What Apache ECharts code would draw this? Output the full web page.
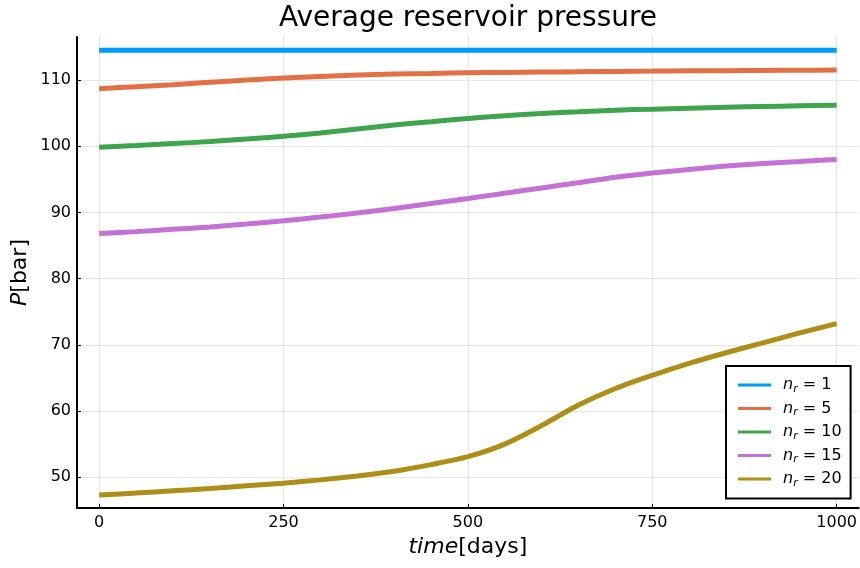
<!DOCTYPE html>
<html>
<head>
<meta charset="utf-8">
<script src="https://cdn.jsdelivr.net/npm/echarts@6/dist/echarts.min.js"></script>
<style>html,body{margin:0;padding:0;background:#fff;}#chart{width:860px;height:568px;}</style>
</head>
<body>
<div id="chart"></div>
<script>
const times = [0,50,100,150,200,250,300,350,400,450,500,550,600,650,700,750,800,850,900,950,1000];
const nr1  = [114.5,114.5,114.5,114.5,114.5,114.5,114.5,114.5,114.5,114.5,114.5,114.5,114.5,114.5,114.5,114.5,114.5,114.5,114.5,114.5,114.5];
const nr5  = [108.7,109.0,109.3,109.65,110.0,110.3,110.55,110.75,110.9,111.0,111.1,111.15,111.2,111.25,111.3,111.35,111.4,111.42,111.45,111.47,111.5];
const nr10 = [99.85,100.1,100.4,100.7,101.1,101.5,102.0,102.6,103.2,103.7,104.2,104.6,104.95,105.2,105.45,105.6,105.75,105.9,106.0,106.1,106.2];
const nr15 = [86.8,87.1,87.45,87.8,88.25,88.75,89.3,89.9,90.6,91.35,92.1,92.9,93.7,94.5,95.3,95.95,96.5,97.0,97.4,97.7,98.0];
const nr20 = [47.3,47.6,47.95,48.3,48.7,49.1,49.6,50.2,50.9,51.9,53.1,55.0,57.8,60.9,63.4,65.4,67.2,68.8,70.3,71.8,73.2];
const seriesNames = ['1','5','10','15','20'];
const seriesData = [nr1,nr5,nr10,nr15,nr20];
const colors = ['#009AFA','#E36F47','#3EA44E','#C371D2','#AC8E18'];
const xTicks = [0,250,500,750,1000];
const yTicks = [50,60,70,80,90,100,110];

const FONT = 'DejaVu Sans';
const chart = echarts.init(document.getElementById('chart'), null, {renderer:'canvas'});
const series = seriesNames.map((n,i)=>({
  name: n,
  type: 'line',
  data: times.map((t,j)=>[t, seriesData[i][j]]),
  showSymbol: false,
  smooth: 0.3,
  lineStyle: {width: 5, color: colors[i]},
  itemStyle: {color: colors[i]},
  emphasis: {disabled: true},
  z: 2 + i
}));
chart.setOption({
  animation: false,
  color: colors,
  title: {
    text: 'Average reservoir pressure',
    left: 468, top: 5, padding: 0, textAlign: 'center',
    textStyle: {fontFamily: FONT, fontSize: 28, fontWeight: 'normal', color: '#000'}
  },
  grid: {left: 77, right: 1, top: 37, bottom: 60, containLabel: false},
  legend: {
    orient: 'vertical', left: 726, top: 366,
    padding: [11, 9, 10, 12],
    itemGap: 6,
    itemWidth: 33, itemHeight: 3,
    icon: 'rect',
    borderColor: '#000', borderWidth: 2, backgroundColor: '#fff',
    formatter: n => '{i|n}{s|r}{t| = ' + n + '}',
    textStyle: {
      fontFamily: FONT, fontSize: 16, color: '#000', padding: [0,0,0,7],
      rich: {
        i: {fontFamily: FONT, fontSize: 16, fontStyle: 'italic', color: '#000'},
        s: {fontFamily: FONT, fontSize: 11, fontStyle: 'italic', color: '#000', padding: [8,0,0,0]},
        t: {fontFamily: FONT, fontSize: 16, color: '#000'}
      }
    },
    data: seriesNames
  },
  xAxis: {
    type: 'value', min: -30, max: 1030,
    name: '{i|time}{n|[days]}', nameLocation: 'middle', nameGap: 26,
    nameTextStyle: {rich: {
      i: {fontFamily: FONT, fontSize: 22, fontStyle: 'italic', color: '#000'},
      n: {fontFamily: FONT, fontSize: 22, color: '#000'}
    }},
    axisLine: {show: true, onZero: false, lineStyle: {color: '#000', width: 2}},
    axisTick: {show: true, inside: true, length: 4, customValues: xTicks, lineStyle: {color: '#000'}},
    axisLabel: {customValues: xTicks, formatter: v => String(v), fontFamily: FONT, fontSize: 16, color: '#000', margin: 7},
    splitLine: {show: true, lineStyle: {color: '#e6e6e6', width: 1}}
  },
  yAxis: {
    type: 'value', min: 45.35, max: 116.5,
    name: '{i|P}{n|[bar]}', nameLocation: 'middle', nameGap: 46, nameRotate: 90,
    nameMoveOverlap: false,
    nameTextStyle: {rich: {
      i: {fontFamily: FONT, fontSize: 22, fontStyle: 'italic', color: '#000'},
      n: {fontFamily: FONT, fontSize: 22, color: '#000'}
    }},
    axisLine: {show: true, onZero: false, lineStyle: {color: '#000', width: 2}},
    axisTick: {show: true, inside: true, length: 4, customValues: yTicks, lineStyle: {color: '#000'}},
    axisLabel: {customValues: yTicks, fontFamily: FONT, fontSize: 16, color: '#000', margin: 6},
    splitLine: {show: true, lineStyle: {color: '#e6e6e6', width: 1}}
  },
  series: series
});
</script>
</body>
</html>
